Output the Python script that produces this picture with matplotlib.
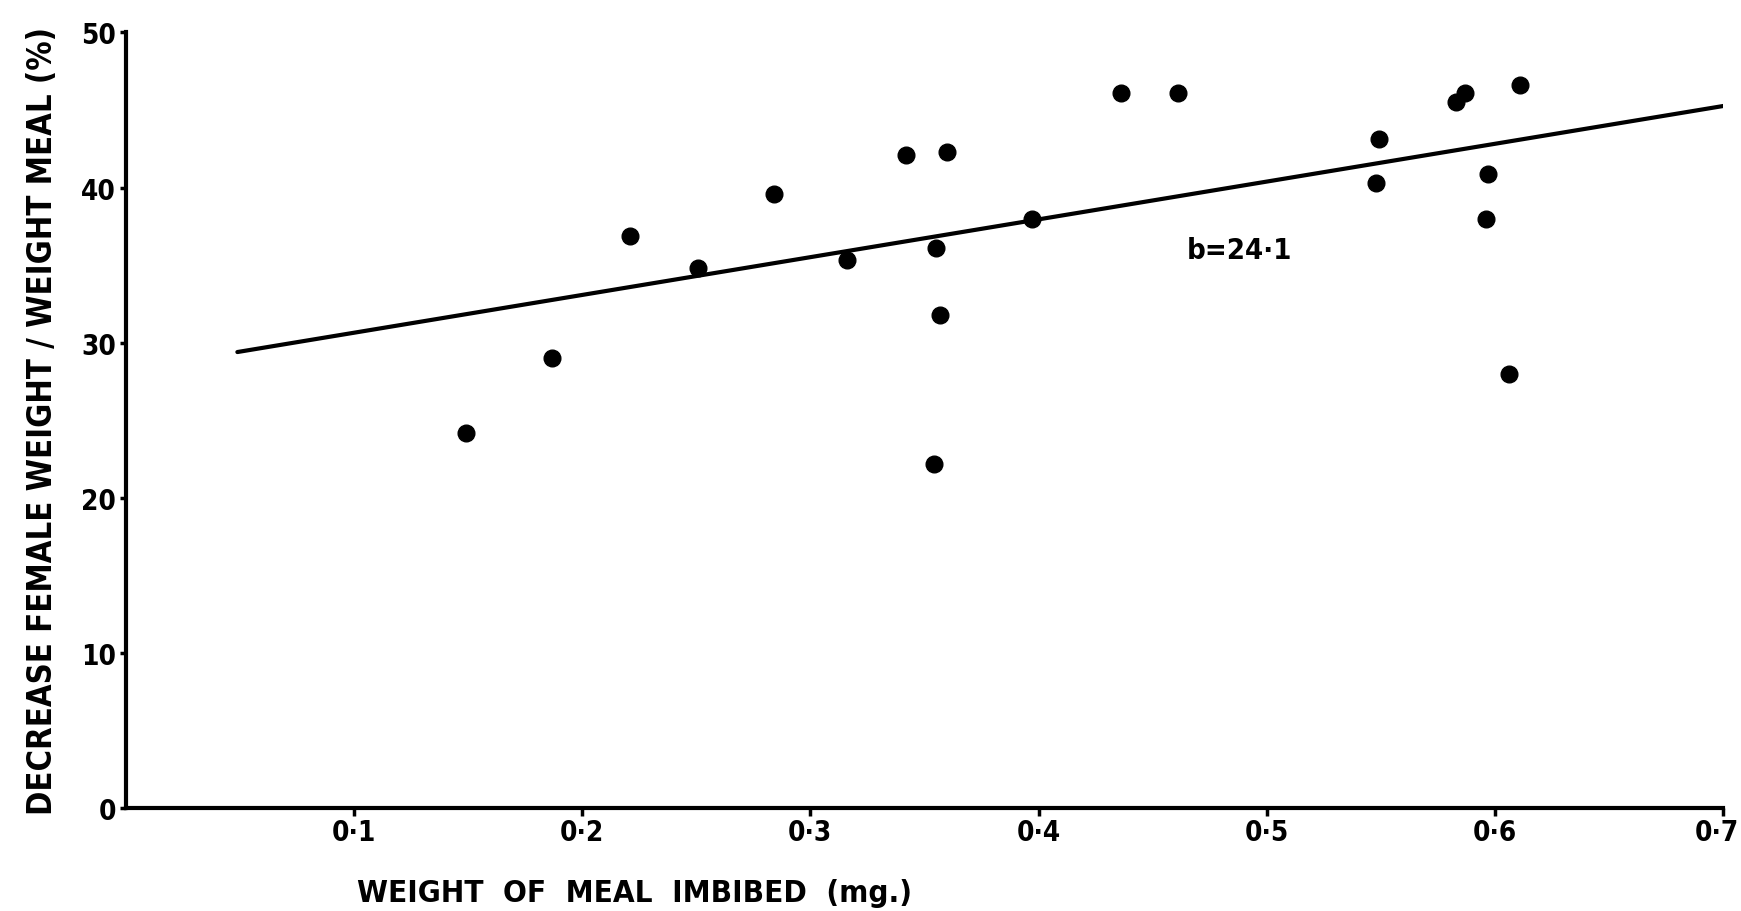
import matplotlib
matplotlib.use('Agg')
import matplotlib.pyplot as plt
from matplotlib.transforms import ScaledTranslation

# points
meal_mg = [0.149, 0.187, 0.221, 0.251, 0.284, 0.316, 0.342, 0.355, 0.360,
           0.357, 0.354, 0.397, 0.436, 0.461, 0.549, 0.548, 0.583, 0.587,
           0.611, 0.597, 0.596, 0.606]
decrease_pct = [24.2, 29.0, 36.9, 34.8, 39.6, 35.3, 42.1, 36.1, 42.3,
                31.8, 22.2, 38.0, 46.1, 46.1, 43.1, 40.3, 45.5, 46.1,
                46.6, 40.9, 38.0, 28.0]

# regression line end points
line_x = [0.049, 0.702]
line_y = [29.4, 45.3]

xticks = [0.1, 0.2, 0.3, 0.4, 0.5, 0.6, 0.7]
xtick_labels = ['0·1', '0·2', '0·3', '0·4', '0·5', '0·6', '0·7']
yticks = [0, 10, 20, 30, 40, 50]

plt.rcParams['font.family'] = ['DejaVu Sans']
plt.rcParams['font.stretch'] = 'condensed'
plt.rcParams['font.weight'] = 'bold'

fig = plt.figure(figsize=(17.41, 9.12), dpi=100)
ax = fig.add_axes([0.0721, 0.1125, 0.9177, 0.851])

ax.plot(line_x, line_y, color='black', linewidth=3, solid_capstyle='round')
ax.plot(meal_mg, decrease_pct, 'o', color='black', markersize=12)

ax.text(0.488, 36.0, 'b=24·1', fontsize=21, fontweight='bold',
        ha='center', va='center')

ax.set_xlim(0, 0.7)
ax.set_ylim(0, 50)
ax.set_xticks(xticks)
ax.set_xticklabels(xtick_labels)
ax.set_yticks(yticks)

for side in ['top', 'right']:
    ax.spines[side].set_visible(False)
for side in ['left', 'bottom']:
    ax.spines[side].set_linewidth(3)
ax.tick_params(axis='both', direction='out', width=2.5, labelsize=20)
ax.tick_params(axis='x', length=6, pad=1)
ax.tick_params(axis='y', length=4, pad=3)

# keep the last label inside the figure edge
last = ax.get_xticklabels()[-1]
last.set_horizontalalignment('right')
last.set_transform(last.get_transform() + ScaledTranslation(0.16, 0, fig.dpi_scale_trans))

ax.set_ylabel('DECREASE FEMALE WEIGHT / WEIGHT MEAL (%)', fontsize=23.5,
              fontweight='bold', labelpad=16)
fig.text(0.205, 0.02, 'WEIGHT  OF  MEAL  IMBIBED  (mg.)', fontsize=22.5,
         fontweight='bold', ha='left', va='center')

fig.savefig('out.png', dpi=100)
